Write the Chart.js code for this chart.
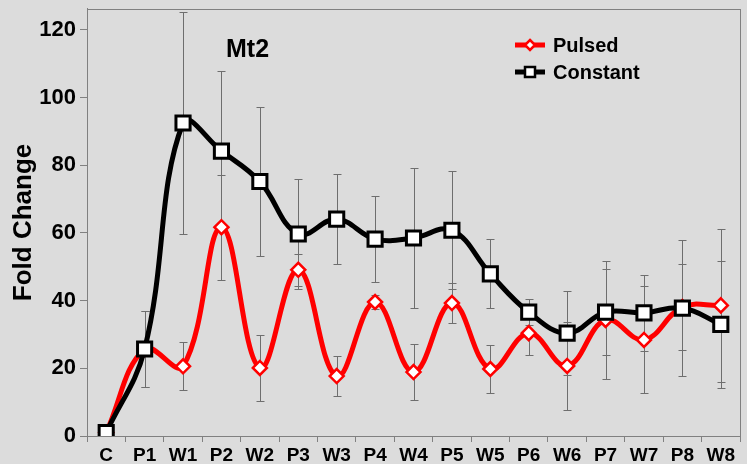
<!DOCTYPE html>
<html>
<head>
<meta charset="utf-8">
<script src="https://cdn.jsdelivr.net/npm/chart.js@4/dist/chart.umd.min.js"></script>
<style>
  html, body { margin: 0; padding: 0; background: #dcdcdc; }
  #wrap { width: 747px; height: 464px; }
</style>
</head>
<body>
<div id="wrap"><canvas id="grafico" width="747" height="464"></canvas></div>
<script>
// categorias e valores
const categorias = ['C','P1','W1','P2','W2','P3','W3','P4','W4','P5','W5','P6','W6','P7','W7','P8','W8'];
const pulsed   = [1, 25.7, 20.6, 61.7, 20.1, 49.1, 17.7, 39.6, 18.9, 39.3, 19.8, 30.4, 20.7, 34.3, 28.4, 38.1, 38.6];
const pulsedErr = [0, 11.2, 7.1, 15.5, 9.8, 4.7, 5.9, 2, 8.3, 5.8, 7, 6.5, 13, 17.4, 15.8, 12.6, 22.6];
const constant = [1, 25.7, 92.5, 84.2, 75.2, 59.7, 64.1, 58.2, 58.5, 60.8, 47.9, 36.6, 30.4, 36.6, 36.4, 37.8, 33.0];
const constantErr = [0, 11.2, 32.8, 23.6, 21.9, 16.3, 13.3, 12.6, 20.7, 17.5, 10.2, 3.8, 12.4, 12.7, 11.2, 20.2, 18.8];
const yTicks = [0, 20, 40, 60, 80, 100, 120];

const FONTE = 'Arial, "Liberation Sans", sans-serif';

// barras de erro, desenhadas atras das linhas
const barrasErro = {
  id: 'barrasErro',
  beforeDatasetsDraw(chart) {
    const {ctx, scales: {x, y}} = chart;
    ctx.save();
    ctx.strokeStyle = '#6e6e6e';
    ctx.lineWidth = 1;
    [[pulsed, pulsedErr], [constant, constantErr]].forEach(([vals, errs]) => {
      vals.forEach((v, i) => {
        if (!errs[i]) return;
        const px = Math.round(x.getPixelForValue(i)) + 0.5;
        const top = Math.round(y.getPixelForValue(v + errs[i])) + 0.5;
        const bot = Math.round(y.getPixelForValue(v - errs[i])) + 0.5;
        ctx.beginPath();
        ctx.moveTo(px, top); ctx.lineTo(px, bot);
        ctx.moveTo(px - 4, top); ctx.lineTo(px + 4, top);
        ctx.moveTo(px - 4, bot); ctx.lineTo(px + 4, bot);
        ctx.stroke();
      });
    });
    ctx.restore();
  },
  afterDraw(chart) {
    const {ctx, chartArea: a} = chart;
    ctx.save();
    // moldura do grafico
    ctx.strokeStyle = '#808080';
    ctx.lineWidth = 1;
    ctx.strokeRect(Math.round(a.left) + 0.5, Math.round(a.top) + 0.5, Math.round(a.right - a.left), Math.round(a.bottom - a.top));
    // titulo interno
    ctx.fillStyle = '#000';
    ctx.font = 'bold 25px ' + FONTE;
    ctx.textAlign = 'left';
    ctx.textBaseline = 'alphabetic';
    ctx.fillText('Mt2', 226, 57);
    // legenda
    const itens = [
      {txt: 'Pulsed', cor: '#ff0000', forma: 'diamante', y: 45},
      {txt: 'Constant', cor: '#000000', forma: 'quadrado', y: 72}
    ];
    itens.forEach(it => {
      ctx.strokeStyle = it.cor;
      ctx.lineWidth = 5;
      ctx.beginPath();
      ctx.moveTo(515, it.y); ctx.lineTo(545, it.y);
      ctx.stroke();
      ctx.fillStyle = '#fff';
      ctx.lineWidth = 2.5;
      ctx.beginPath();
      if (it.forma === 'diamante') {
        ctx.moveTo(530, it.y - 5); ctx.lineTo(535, it.y); ctx.lineTo(530, it.y + 5); ctx.lineTo(525, it.y); ctx.closePath();
      } else {
        ctx.rect(525, it.y - 5, 10, 10);
      }
      ctx.fill(); ctx.stroke();
      ctx.fillStyle = '#000';
      ctx.font = 'bold 20px ' + FONTE;
      ctx.textBaseline = 'middle';
      ctx.fillText(it.txt, 553, it.y + 1);
    });
    ctx.restore();
  }
};

new Chart(document.getElementById('grafico'), {
  type: 'line',
  data: {
    labels: categorias,
    datasets: [{
      label: 'Pulsed',
      data: pulsed,
      borderColor: '#ff0000',
      borderWidth: 5,
      tension: 0.4,
      pointStyle: 'rectRot',
      pointRadius: 7,
      pointBorderWidth: 2.5,
      pointBackgroundColor: '#ffffff',
      pointBorderColor: '#ff0000',
      order: 2
    }, {
      label: 'Constant',
      data: constant,
      borderColor: '#000000',
      borderWidth: 5,
      tension: 0.4,
      pointStyle: 'rect',
      pointRadius: 10,
      pointBorderWidth: 3,
      pointBackgroundColor: '#ffffff',
      pointBorderColor: '#000000',
      order: 1
    }]
  },
  options: {
    responsive: false,
    animation: false,
    layout: { autoPadding: false, padding: { top: 0, right: 7, left: 0, bottom: 0 } },
    plugins: { legend: { display: false }, tooltip: { enabled: false } },
    scales: {
      x: {
        offset: true,
        grid: { offset: true, drawOnChartArea: false, drawTicks: true, tickLength: 6, color: '#808080' },
        border: { color: '#808080' },
        ticks: { color: '#000', font: { family: FONTE, size: 19, weight: 'bold' }, padding: 2, maxRotation: 0, autoSkip: false },
        afterFit(s) { s.height = 28; }
      },
      y: {
        min: 0,
        max: 126.2,
        afterBuildTicks(s) { s.ticks = yTicks.map(v => ({value: v})); },
        grid: { drawOnChartArea: false, drawTicks: true, tickLength: 7, color: '#808080' },
        border: { color: '#808080' },
        ticks: { color: '#000', font: { family: FONTE, size: 22, weight: 'bold', lineHeight: 0.45 }, padding: 4 },
        title: { display: true, text: 'Fold Change', color: '#000', font: { family: FONTE, size: 26, weight: 'bold' }, padding: { top: 8, bottom: 0 } },
        afterFit(s) { s.width = 87; }
      }
    }
  },
  plugins: [barrasErro]
});
</script>
</body>
</html>
